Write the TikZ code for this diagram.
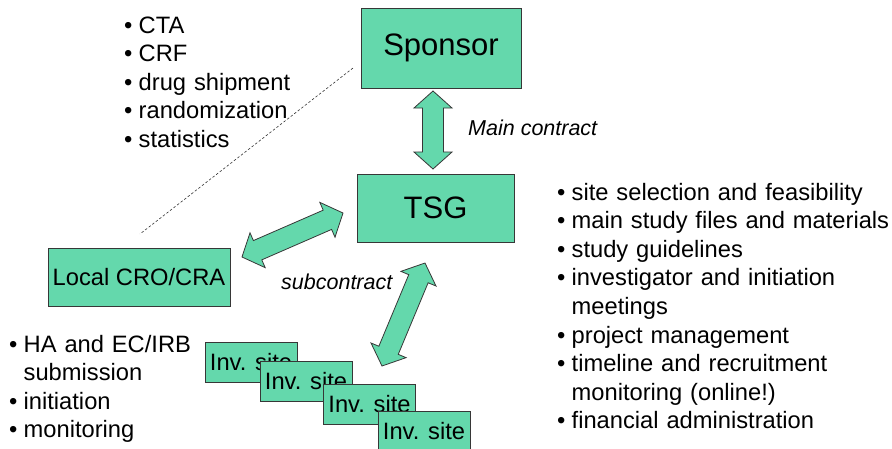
\documentclass[tikz,border=0pt]{standalone}
\usepackage{fontspec}
\setmainfont{Liberation Sans}
\usetikzlibrary{calc}
\definecolor{boxGreen}{RGB}{100,216,172}
\definecolor{edgeGray}{RGB}{55,55,55}
\newcommand{\bigFont}{\fontsize{31}{37}\selectfont}
\newcommand{\boxFont}{\fontsize{23.7}{28.6}\selectfont}
\newcommand{\noteFont}{\fontsize{21.5}{26}\selectfont\itshape}
\newcommand{\bulletWidth}{14.5pt}
\newcommand{\bulletItem}[1]{\hangindent=\bulletWidth\hangafter=1\noindent\makebox[\bulletWidth][l]{\textbullet}#1\par}
% block arrow: head and shaft corners seen from a tip (radius, angle)
\newcommand{\headR}{25.5pt}
\newcommand{\headAngle}{48.2}
\newcommand{\shaftR}{20pt}
\newcommand{\shaftAngle}{31.7}
\newcommand{\blockArrow}[2]{%
  \filldraw[blockarrow] (#1)
    -- ($(#1)!\headR!\headAngle:(#2)$) -- ($(#1)!\shaftR!\shaftAngle:(#2)$)
    -- ($(#2)!\shaftR!-\shaftAngle:(#1)$) -- ($(#2)!\headR!-\headAngle:(#1)$)
    -- (#2)
    -- ($(#2)!\headR!\headAngle:(#1)$) -- ($(#2)!\shaftR!\shaftAngle:(#1)$)
    -- ($(#1)!\shaftR!-\shaftAngle:(#2)$) -- ($(#1)!\headR!-\headAngle:(#2)$)
    -- cycle;}
\tikzset{
  greenbox/.style={draw=edgeGray, line width=0.9pt, fill=boxGreen, inner sep=0pt, font=\boxFont},
  invbox/.style={greenbox, minimum width=92pt, minimum height=40pt},
  blockarrow/.style={draw=edgeGray, line width=0.8pt, fill=boxGreen, line join=miter},
  bulletlist/.style={anchor=base west, inner sep=0pt, align=left, font=\boxFont},
  contractlabel/.style={anchor=base west, inner sep=0pt, font=\noteFont},
  dashline/.style={draw=black!80, line width=0.6pt, dash pattern=on 2.5pt off 2pt}
}

\begin{document}
\begin{tikzpicture}[x=1pt, y=-1pt]
\useasboundingbox (0,0) rectangle (892,448);

% main boxes
\node[greenbox, minimum width=160pt, minimum height=80pt, font=\bigFont] (sponsor) at (441,48) {Sponsor};
\node[greenbox, minimum width=157pt, minimum height=68pt, font=\bigFont] (tsg) at (435.5,208) {TSG};
\node[greenbox, minimum width=182pt, minimum height=58pt] (cro) at (139,277) {Local CRO/CRA};

% investigator sites, each one on top of the last
\node[invbox] (inv1) at (251,362) {Inv. site};
\node[invbox] (inv2) at (306,381.5) {Inv. site};
\node[invbox] (inv3) at (369.5,404) {Inv. site};
\node[invbox] (inv4) at (424,431) {Inv. site};

% arrow tips
\coordinate (sponsorTip) at (433,91);
\coordinate (tsgTopTip) at (433,169);
\coordinate (tsgLeftTip) at (343,213);
\coordinate (croTip) at (242,257);
\coordinate (tsgLowTip) at (425,263);
\coordinate (invTip) at (382,366);

\blockArrow{sponsorTip}{tsgTopTip}
\blockArrow{croTip}{tsgLeftTip}
\blockArrow{invTip}{tsgLowTip}

\node[contractlabel] (mainLabel) at (468,135) {Main contract};
\node[contractlabel] (subLabel) at (281,289) {subcontract};

% dashed link sponsor -- local CRO
\coordinate (dashTop) at (353,68);
\coordinate (dashEnd) at (140,234);
\draw[dashline] (dashTop) -- (dashEnd);

% task lists
\node[bulletlist, text width=200pt] (sponsorList) at (124,33)
  {\bulletItem{CTA}\bulletItem{CRF}\bulletItem{drug shipment}\bulletItem{randomization}\bulletItem{statistics}};
\node[bulletlist, text width=334pt] (tsgList) at (557,200)
  {\bulletItem{site selection and feasibility}\bulletItem{main study files and materials}\bulletItem{study guidelines}%
   \bulletItem{investigator and initiation\newline meetings}\bulletItem{project management}%
   \bulletItem{timeline and recruitment\newline monitoring (online!)}\bulletItem{financial administration}};
\node[bulletlist, text width=190pt] (croList) at (9,352)
  {\bulletItem{HA and EC/IRB\newline submission}\bulletItem{initiation}\bulletItem{monitoring}};
\end{tikzpicture}
\end{document}
